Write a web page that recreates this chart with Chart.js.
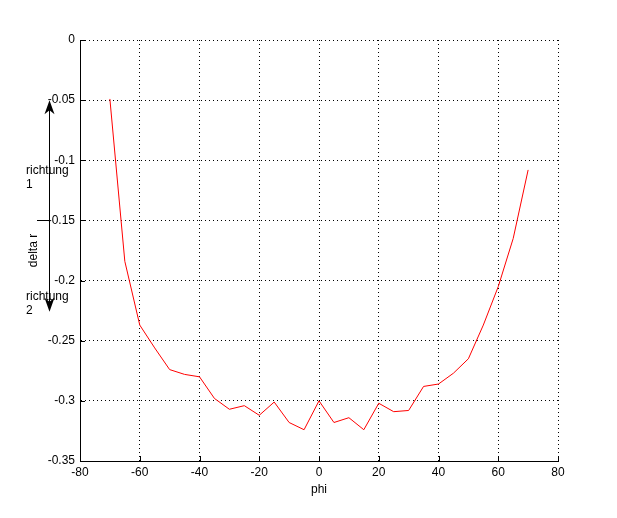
<!DOCTYPE html>
<html><head><meta charset="utf-8">
<script src="https://cdn.jsdelivr.net/npm/chart.js@4/dist/chart.umd.min.js"></script>
<style>html,body{margin:0;padding:0;background:#fff;}</style>
</head><body>
<canvas id="c" width="617" height="518"></canvas>
<script>
const phi = [-70,-65,-60,-55,-50,-45,-40,-35,-30,-25,-20,-15,-10,-5,0,5,10,15,20,25,30,35,40,45,50,55,60,65,70];
const deltaR = [-0.049,-0.184,-0.237,-0.256,-0.274,-0.278,-0.280,-0.298,-0.307,-0.304,-0.312,-0.301,-0.318,-0.324,-0.300,-0.318,-0.314,-0.324,-0.302,-0.309,-0.308,-0.288,-0.286,-0.277,-0.265,-0.237,-0.205,-0.165,-0.108];
const xTickLabels = ['-80','-60','-40','-20','0','20','40','60','80'];
const yTickLabels = ['-0.35','-0.3','-0.25','-0.2','-0.15','-0.1','-0.05','0'];
const xTitle = 'phi';
const yTitle = 'delta r';
const noteTop = ['richtung','1'];
const noteBottom = ['richtung','2'];

const FONT = {family:"'Liberation Sans', Arial, sans-serif", size:12};
const FONTSTR = "12px 'Liberation Sans', Arial, sans-serif";

const insideTicks = {
  id:'insideTicks',
  afterDraw(chart){
    const ctx = chart.ctx, a = chart.chartArea;
    const xs = chart.scales.x, ys = chart.scales.y;
    ctx.save();
    ctx.strokeStyle = '#000'; ctx.lineWidth = 1;
    ctx.beginPath();
    xs.ticks.forEach(t=>{
      const p = Math.round(xs.getPixelForValue(t.value))+0.5;
      ctx.moveTo(p, a.bottom); ctx.lineTo(p, a.bottom-5);
    });
    ys.ticks.forEach(t=>{
      const p = Math.round(ys.getPixelForValue(t.value))+0.5;
      ctx.moveTo(a.left, p); ctx.lineTo(a.left+5, p);
    });
    ctx.stroke();

    // annotation arrow
    const ax = a.left - 30.5;
    const yTop = ys.getPixelForValue(-0.05);
    const yBot = ys.getPixelForValue(-0.226);
    const yMid = Math.round(ys.getPixelForValue(-0.15))+0.5;
    ctx.beginPath();
    ctx.moveTo(ax, yTop+6); ctx.lineTo(ax, yBot-6);
    ctx.moveTo(a.left-43, yMid); ctx.lineTo(ax, yMid);
    ctx.stroke();
    ctx.fillStyle = '#000';
    ctx.beginPath();
    ctx.moveTo(ax, yTop); ctx.lineTo(ax-5, yTop+14); ctx.lineTo(ax, yTop+10); ctx.lineTo(ax+5, yTop+14); ctx.closePath();
    ctx.fill();
    ctx.beginPath();
    ctx.moveTo(ax, yBot); ctx.lineTo(ax-5, yBot-14); ctx.lineTo(ax, yBot-10); ctx.lineTo(ax+5, yBot-14); ctx.closePath();
    ctx.fill();

    ctx.font = FONTSTR;
    ctx.textAlign = 'left'; ctx.textBaseline = 'middle';
    const nx = a.left - 54;
    const t1 = ys.getPixelForValue(-0.109);
    ctx.fillText(noteTop[0], nx, t1);
    ctx.fillText(noteTop[1], nx, t1+14);
    const t2 = ys.getPixelForValue(-0.2135);
    ctx.fillText(noteBottom[0], nx, t2);
    ctx.fillText(noteBottom[1], nx, t2+14);
    ctx.restore();
  }
};

new Chart(document.getElementById('c'), {
  type:'line',
  data:{datasets:[{
    data: phi.map((x,i)=>({x:x, y:deltaR[i]})),
    borderColor:'#ff0000', borderWidth:1, pointRadius:0, tension:0, fill:false
  }]},
  options:{
    responsive:false, animation:false, devicePixelRatio:1,
    layout:{padding:{left:0, top:40, right:59, bottom:0}},
    plugins:{legend:{display:false}, tooltip:{enabled:false}},
    scales:{
      x:{
        type:'linear', min:-80, max:80,
        ticks:{stepSize:20, color:'#000', font:FONT, padding:4, maxRotation:0, autoSkip:false,
          callback:(v,i)=>xTickLabels[i]},
        grid:{color:'#000', drawTicks:false, lineWidth:1},
        border:{display:true, color:'#000', width:1, dash:[1,3]},
        title:{display:true, text:xTitle, color:'#000', font:FONT, padding:{top:0, bottom:21}},
        afterFit:s=>{s.height = 57;}
      },
      y:{
        type:'linear', min:-0.35, max:0,
        ticks:{stepSize:0.05, color:'#000', font:FONT, padding:5, autoSkip:false,
          callback:(v,i)=>yTickLabels[i]},
        grid:{color:'#000', drawTicks:false, lineWidth:1},
        border:{display:true, color:'#000', width:1, dash:[1,3]},
        title:{display:true, text:yTitle, color:'#000', font:FONT, padding:{top:26.4, bottom:0}},
        afterFit:s=>{s.width = 80;}
      }
    }
  },
  plugins:[insideTicks]
});
</script>
</body></html>
